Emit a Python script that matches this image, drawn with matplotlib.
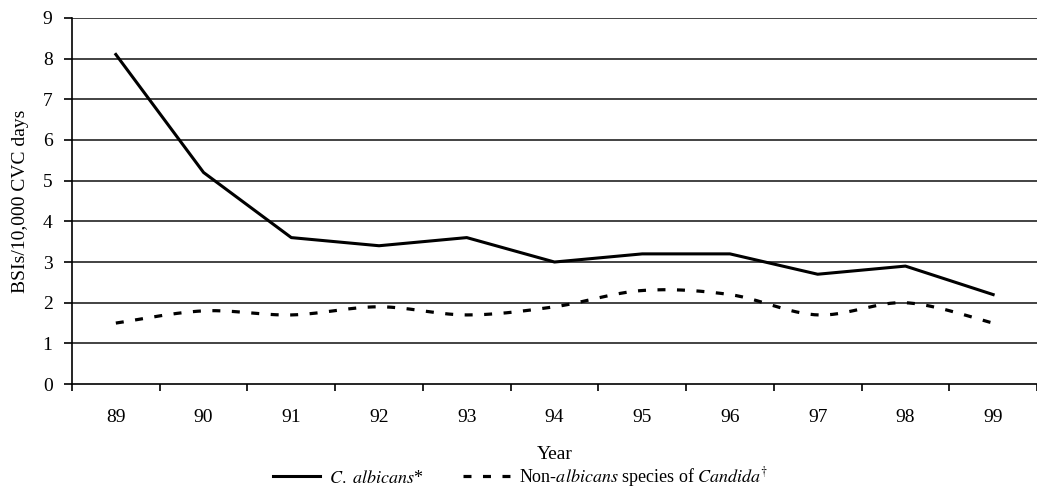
import numpy as np
import matplotlib.pyplot as plt
from matplotlib.ticker import FixedLocator

# --------------------------------
# Data
# --------------------------------
years = ['89', '90', '91', '92', '93', '94', '95', '96', '97', '98', '99']
albicans = [8.1, 5.2, 3.6, 3.4, 3.6, 3.0, 3.2, 3.2, 2.7, 2.9, 2.2]
non_albicans = [1.5, 1.8, 1.7, 1.9, 1.7, 1.9, 2.3, 2.2, 1.7, 2.0, 1.5]

plt.rcParams['font.family'] = ['Liberation Serif', 'DejaVu Serif']
plt.rcParams['mathtext.fontset'] = 'stix'


def smooth(x, y, n=30):
    # Excel-style smoothed line (bezier between the points)
    x = np.asarray(x, float)
    y = np.asarray(y, float)
    px = np.concatenate([[x[0]], x, [x[-1]]])
    py = np.concatenate([[y[0]], y, [y[-1]]])
    xs, ys = [], []
    t = np.linspace(0, 1, n)
    for i in range(1, len(px) - 2):
        p0 = np.array([px[i], py[i]])
        p3 = np.array([px[i + 1], py[i + 1]])
        p1 = p0 + (np.array([px[i + 1], py[i + 1]]) - np.array([px[i - 1], py[i - 1]])) / 6
        p2 = p3 - (np.array([px[i + 2], py[i + 2]]) - np.array([px[i], py[i]])) / 6
        b = ((1 - t) ** 3)[:, None] * p0 + (3 * (1 - t) ** 2 * t)[:, None] * p1 \
            + (3 * (1 - t) * t ** 2)[:, None] * p2 + (t ** 3)[:, None] * p3
        xs.extend(b[:, 0])
        ys.extend(b[:, 1])
    return xs, ys


fig = plt.figure(figsize=(10.37, 4.95), dpi=100)
ax = fig.add_axes([0.0694, 0.224, 0.9306, 0.740])

pos = np.arange(len(years))

for v in range(1, 10):
    ax.axhline(v, color='#222222', lw=1.2, zorder=1)

ax.plot(pos, albicans, color='black', lw=2.2, zorder=3,
        label=r'$\mathit{C.\ albicans}$*')
sx, sy = smooth(pos, non_albicans)
ax.plot(sx, sy, color='black', lw=2.3, linestyle=(0, (2.5, 3.6)), zorder=3,
        label=r'Non-$\mathit{albicans}$ species of $\mathit{Candida}^{\dagger}$')

ax.set_xlim(-0.5, len(years) - 0.5)
ax.set_ylim(0, 9)
ax.set_yticks(range(0, 10))
ax.set_xticks(pos)
ax.set_xticklabels(years)
ax.xaxis.set_minor_locator(FixedLocator(np.arange(-0.5, len(years), 1.0)))
ax.tick_params(axis='x', which='major', length=0, pad=18, labelsize=14)
ax.tick_params(axis='x', which='minor', length=5, width=1.2, direction='out')
ax.tick_params(axis='y', length=6, width=1.2, direction='out', labelsize=14, pad=8)

for side in ['top', 'right']:
    ax.spines[side].set_visible(False)
ax.spines['left'].set_linewidth(1.2)
ax.spines['bottom'].set_linewidth(1.2)

ax.set_ylabel('BSIs/10,000 CVC days', fontsize=14, labelpad=10)
ax.set_xlabel('Year', fontsize=14, labelpad=14)

fig.legend(loc='center', bbox_to_anchor=(0.502, 0.036), ncol=2, frameon=False,
           fontsize=13, handlelength=2.6, columnspacing=2.2, handletextpad=0.5,
           borderaxespad=0, borderpad=0)

fig.savefig('out.png', dpi=100)
